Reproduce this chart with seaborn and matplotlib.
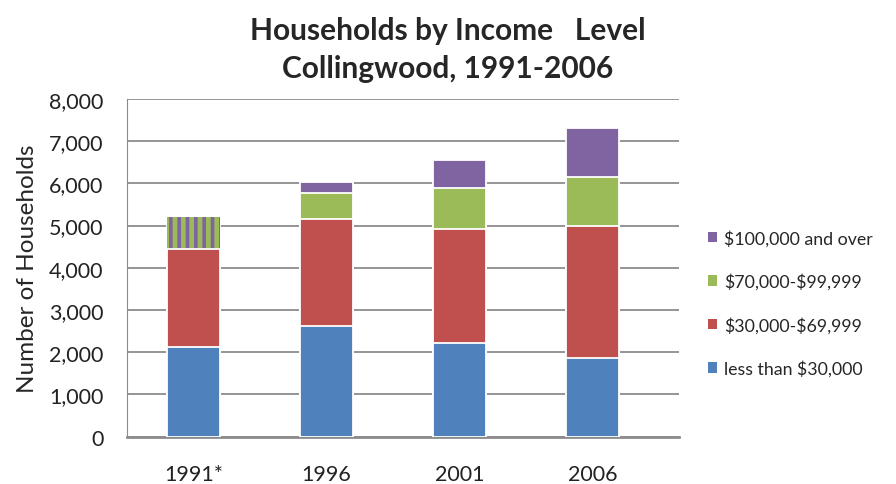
import matplotlib
matplotlib.use('Agg')
import matplotlib.pyplot as plt
import pandas as pd
import seaborn as sns
from matplotlib.patches import Patch

# 数据
years = ['1991*', '1996', '2001', '2006']
less_30k = [2120, 2615, 2230, 1870]
from_30k_70k = [2335, 2550, 2700, 3130]
from_70k_100k = [750, 615, 970, 1140]   # 1991: 70k 以上合并
over_100k = [0, 260, 665, 1180]
series_names = [r'\$100,000 and over', r'\$70,000-\$99,999', r'\$30,000-\$69,999', r'less than \$30,000']
colors = ['#8064A2', '#9BBB59', '#C0504D', '#4F81BD']

sns.set_style('white')
plt.rcParams['font.family'] = ['Lato', 'DejaVu Sans']
plt.rcParams['hatch.linewidth'] = 2.6

df = pd.DataFrame({'year': years, 'a': less_30k, 'b': from_30k_70k,
                   'c': from_70k_100k, 'd': over_100k})
df['cum_b'] = df['a'] + df['b']
df['cum_c'] = df['cum_b'] + df['c']
df['cum_d'] = df['cum_c'] + df['d']

fig = plt.figure(figsize=(8.96, 4.85), dpi=100)
ax = fig.add_axes([0.1417, 0.0975, 0.6163, 0.6965])

# 堆叠：先画总高度，再逐层覆盖
for col, c in zip(['cum_d', 'cum_c', 'cum_b', 'a'], colors):
    sns.barplot(data=df, x='year', y=col, color=c, width=0.4, saturation=1,
                edgecolor='white', linewidth=1.3, ax=ax, zorder=3)

# 1991 合并段：绿紫条纹
p = ax.containers[1].patches[0]
p.set_facecolor('#9BBB59')
p.set_edgecolor('#8064A2')
p.set_hatch('||')
p.set_linewidth(0)

ax.set_ylim(0, 8000)
ax.set_xlim(-0.5, 3.65)
ax.set_yticks(range(0, 8001, 1000))
ax.set_yticklabels([f'{v:,}' for v in range(0, 8001, 1000)])
ax.yaxis.grid(True, color='#8c8c8c', linewidth=1.3)
ax.set_axisbelow(True)
ax.tick_params(axis='both', length=0, labelsize=15.5, colors='#222222')
ax.tick_params(axis='x', pad=20)
ax.tick_params(axis='y', pad=17)
for s in ['top', 'right']:
    ax.spines[s].set_visible(False)
ax.spines['left'].set_color('#8c8c8c')
ax.spines['bottom'].set_color('#8c8c8c')
ax.spines['bottom'].set_linewidth(2)
ax.set_xlabel('')
ax.set_ylabel('Number of Households', fontsize=17.5)
ax.yaxis.set_label_coords(-0.161, 0.5)

fig.text(0.5, 0.937, 'Households by Income   Level', ha='center', va='center',
         fontsize=21.5, fontweight='bold')
fig.text(0.5, 0.858, 'Collingwood, 1991-2006', ha='center', va='center',
         fontsize=21.5, fontweight='bold')

handles = [Patch(facecolor=c, edgecolor='none') for c in colors]
fig.legend(handles, series_names, loc='center left', bbox_to_anchor=(0.772, 0.373),
           frameon=False, fontsize=12.8, handlelength=0.5, handleheight=0.5,
           handletextpad=0.4, labelspacing=1.5)

fig.savefig('out.png', dpi=100)
